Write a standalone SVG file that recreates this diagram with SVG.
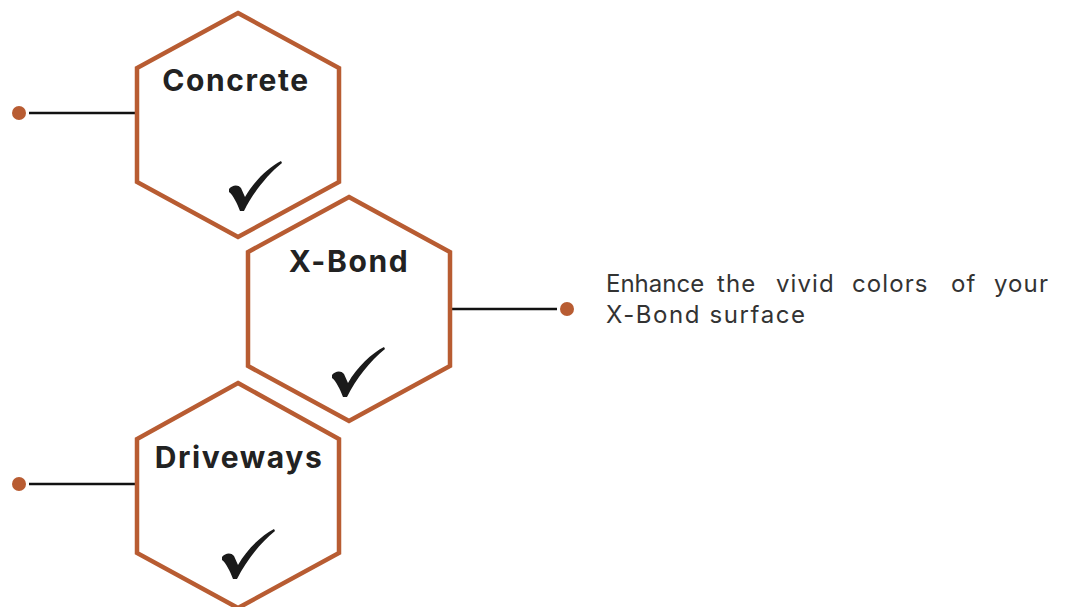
<svg xmlns="http://www.w3.org/2000/svg" width="1068" height="607" viewBox="0 0 1068 607">
<style>
.hex{fill:#fff;stroke:#B85C32;stroke-width:4.5;stroke-linejoin:miter}
.lbl{font-family:Inter,"Open Sans","Liberation Sans",sans-serif;font-weight:700;font-size:30px;letter-spacing:1.6px;fill:#222;text-anchor:middle}
.desc{font-family:Inter,"Open Sans","Liberation Sans",sans-serif;font-size:24px;letter-spacing:1.6px;fill:#333}
.l1{letter-spacing:1.1px}
.tight{letter-spacing:0px}
.conn{stroke:#111;stroke-width:2.5;fill:none}
.dot{fill:#B85C32}
.chk{fill:#1a1a1a}
</style>
<defs>
<path id="check" d="M0,28 C3,24 9,23 12,27 L16,36 C25,20 40,6 52,0 L53,2 C38,14 24,32 15,50 L11,50 C8,42 4,34 0,31 Z"/>
</defs>
<rect width="1068" height="607" fill="#fff"/>
<g id="connectors">
<line class="conn" x1="29" y1="113" x2="137" y2="113"/>
<circle class="dot" cx="19" cy="113" r="7"/>
<line class="conn" x1="450" y1="309" x2="557" y2="309"/>
<circle class="dot" cx="567" cy="309" r="7"/>
<line class="conn" x1="29" y1="484" x2="137" y2="484"/>
<circle class="dot" cx="19" cy="484" r="7"/>
</g>
<g id="node-concrete">
<polygon class="hex" points="238,13 339,68 339,182 238,237 137,182 137,68"/>
<text class="lbl" x="236" y="91">Concrete</text>
<use href="#check" class="chk" x="229" y="161"/>
</g>
<g id="node-xbond">
<polygon class="hex" points="349,197 450,252 450,366 349,421 248,366 248,252"/>
<text class="lbl" x="349" y="272">X-Bond</text>
<use href="#check" class="chk" x="332" y="347"/>
</g>
<g id="node-driveways">
<polygon class="hex" points="238,383 339,439 339,553 238,608 137,553 137,439"/>
<text class="lbl" x="239" y="468">Driveways</text>
<use href="#check" class="chk" x="222" y="529"/>
</g>
<g id="description">
<text class="desc l1" y="292"><tspan class="tight" x="606">Enhance </tspan><tspan x="717">the </tspan><tspan x="776">vivid </tspan><tspan x="852">colors </tspan><tspan x="951">of </tspan><tspan x="994">your</tspan></text>
<text class="desc" x="606" y="323">X-Bond surface</text>
</g>
</svg>
